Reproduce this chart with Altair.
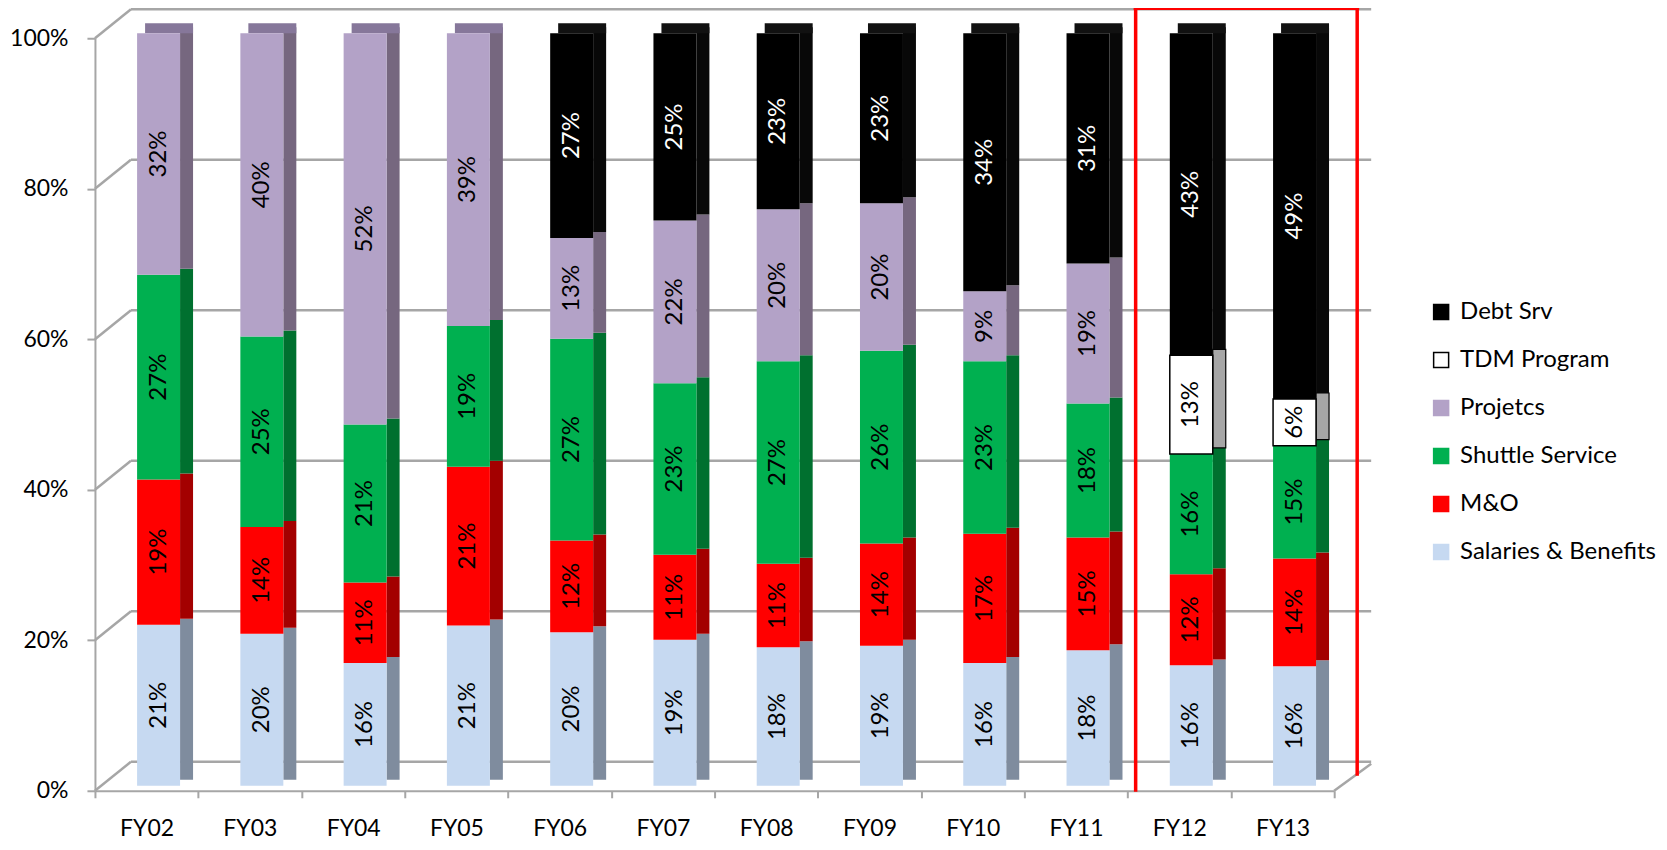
import altair as alt
import pandas as pd

FY = ["FY02", "FY03", "FY04", "FY05", "FY06", "FY07", "FY08", "FY09", "FY10", "FY11", "FY12", "FY13"]
SALARIES = [21.4, 20.2, 16.3, 21.3, 20.4, 19.4, 18.4, 18.6, 16.3, 18.0, 16.0, 15.9]
MO = [19.3, 14.2, 10.7, 21.1, 12.2, 11.3, 11.1, 13.6, 17.2, 15.0, 12.1, 14.3]
SHUTTLE = [27.2, 25.3, 21.0, 18.7, 26.8, 22.8, 26.9, 25.6, 22.9, 17.8, 16.0, 15.0]
PROJECTS = [32.1, 40.3, 52.0, 38.9, 13.4, 21.6, 20.2, 19.6, 9.3, 18.6, None, None]
TDM = [None] * 10 + [13.1, 6.2]
DEBT = [None] * 4 + [27.2, 24.9, 23.4, 22.6, 34.3, 30.6, 42.8, 48.6]

# stacking order bottom -> top
STACK = ["Salaries & Benefits", "M&O", "Shuttle Service", "Projetcs", "TDM Program", "Debt Srv"]
SERIES = [SALARIES, MO, SHUTTLE, PROJECTS, TDM, DEBT]
LEGEND_ORDER = ["Debt Srv", "TDM Program", "Projetcs", "Shuttle Service", "M&O", "Salaries & Benefits"]
TICKS = [0, 0.2, 0.4, 0.6, 0.8, 1.0]

FRONT = {"Debt Srv": "#000000", "TDM Program": "#FFFFFF", "Projetcs": "#B3A2C7",
         "Shuttle Service": "#00B050", "M&O": "#FF0000", "Salaries & Benefits": "#C6D9F1"}
STROKE = dict(FRONT, **{"TDM Program": "#000000"})
SIDE = {"Debt Srv": "#080808", "TDM Program": "#A6A6A6", "Projetcs": "#76677F",
        "Shuttle Service": "#00702F", "M&O": "#A30000", "Salaries & Benefits": "#7F8C9E"}
TOP = {"Debt Srv": "#111111", "TDM Program": "#BFBFBF", "Projetcs": "#86779A",
       "Shuttle Service": "#008A3C", "M&O": "#C00000", "Salaries & Benefits": "#9AA8BA"}

rows = []
for ci, (cat, vals) in enumerate(zip(STACK, SERIES)):
    for fy, v in zip(FY, vals):
        if v is not None:
            rows.append({"fy": fy, "cat": cat, "value": v, "ord": ci})
df = pd.DataFrame(rows)


def color_expr(d):
    expr = "'#000000'"
    for k, v in d.items():
        expr = f"datum.cat == '{k}' ? '{v}' : ({expr})"
    return expr


W, H = 1240, 753
FONT = "Lato"
GRAY = "#A6A6A6"

xenc = alt.X("fy:N", sort=FY, scale=alt.Scale(domain=FY, paddingInner=0, paddingOuter=0),
             axis=alt.Axis(title=None, labelAngle=0, tickBand="extent", tickSize=7, labelPadding=38,
                           labelBaseline="alphabetic",
                           labelFontSize=23, labelFont=FONT, labelColor="#000000",
                           domainColor=GRAY, domainWidth=2, tickColor=GRAY, tickWidth=2))
yscale = alt.Scale(domain=[0, 1], nice=False)

base = alt.Chart(df).transform_stack(
    stack="value", groupby=["fy"], as_=["y0", "y1"], offset="normalize",
    sort=[alt.SortField("ord", order="ascending")]
).transform_calculate(mid="(datum.y0 + datum.y1) / 2",
                      label="format(datum.value, '.0f') + '%'",
                      side_c=color_expr(SIDE),
                      top_c=color_expr(TOP))

ticks_df = pd.DataFrame({"t": TICKS})
grid = alt.Chart(ticks_df).mark_rule(color=GRAY, strokeWidth=2.5, yOffset=-29).encode(
    y=alt.Y("t:Q", scale=yscale,
            axis=alt.Axis(title=None, values=TICKS, format=".0%", grid=False, tickSize=8,
                          labelPadding=19, labelFontSize=23, labelFont=FONT, labelColor="#000000",
                          domainColor=GRAY, domainWidth=2, tickColor=GRAY, tickWidth=2)),
    x=alt.value(36), x2=alt.value(W + 37))
diag = alt.Chart(ticks_df).mark_rule(color=GRAY, strokeWidth=2.5, y2Offset=-29).encode(
    y=alt.Y("t:Q", scale=yscale), y2="t:Q", x=alt.value(0), x2=alt.value(36))
floor_r = alt.Chart(pd.DataFrame({"t": [0]})).mark_rule(color=GRAY, strokeWidth=2.5, y2Offset=-27).encode(
    y=alt.Y("t:Q", scale=yscale), y2="t:Q", x=alt.value(W), x2=alt.value(W + 37))

side = base.mark_bar(width=13, xOffset=40, yOffset=-11, y2Offset=-11).encode(
    x=xenc,
    y=alt.Y("y0:Q", scale=yscale), y2="y1:Q",
    color=alt.Color("side_c:N", scale=None),
    stroke=alt.condition("datum.cat == 'TDM Program'", alt.value("#000000"), alt.value("transparent")),
    strokeWidth=alt.value(1.2))

top = base.transform_filter("datum.y1 > 0.999").mark_bar(width=48, xOffset=22.5, yOffset=-5, y2Offset=-15).encode(
    x=xenc,
    y=alt.Y("y1:Q", scale=yscale), y2="y1:Q",
    color=alt.Color("top_c:N", scale=None))

front = base.mark_bar(width=43, xOffset=12, yOffset=-5, y2Offset=-5).encode(
    x=xenc,
    y=alt.Y("y0:Q", scale=yscale), y2="y1:Q",
    fill=alt.Fill("cat:N", scale=alt.Scale(domain=LEGEND_ORDER, range=[FRONT[c] for c in LEGEND_ORDER]),
                  legend=alt.Legend(title=None)),
    stroke=alt.Stroke("cat:N", scale=alt.Scale(domain=LEGEND_ORDER, range=[STROKE[c] for c in LEGEND_ORDER]),
                      legend=alt.Legend(title=None)),
    strokeWidth=alt.condition("datum.cat == 'TDM Program'", alt.value(1.5), alt.value(0)))

labels = base.mark_text(angle=270, fontSize=24, font=FONT, xOffset=12, yOffset=-5,
                        align="center", baseline="middle").encode(
    x=xenc,
    y=alt.Y("mid:Q", scale=yscale),
    text="label:N",
    color=alt.condition("datum.cat == 'Debt Srv'", alt.value("#FFFFFF"), alt.value("#000000")))

RED = "#FF0000"
b_left = alt.Chart(pd.DataFrame({"fy": ["FY12"]})).mark_rule(color=RED, strokeWidth=3.5, xOffset=8).encode(
    x=alt.X("fy:N", sort=FY, bandPosition=0), y=alt.value(-30), y2=alt.value(754))
b_right = alt.Chart(pd.DataFrame({"fy": ["FY13"]})).mark_rule(color=RED, strokeWidth=3.5, xOffset=23).encode(
    x=alt.X("fy:N", sort=FY, bandPosition=1), y=alt.value(-30), y2=alt.value(738))
b_top = alt.Chart(pd.DataFrame({"fy": ["FY12"]})).mark_rule(color=RED, strokeWidth=3.5, xOffset=6).encode(
    x=alt.X("fy:N", sort=FY, bandPosition=0), x2=alt.value(W + 25), y=alt.value(-30))

chart = alt.layer(grid, diag, floor_r, side, top, front, labels, b_left, b_right, b_top).properties(
    width=W, height=H,
    autosize=alt.AutoSizeParams(type="none"),
    padding={"left": 87, "top": 30, "right": 325, "bottom": 51},
).configure(font=FONT).configure_view(stroke=None).configure_legend(
    orient="none", legendX=1335, legendY=262, padding=0, symbolType="square", symbolSize=225,
    symbolStrokeWidth=1.5, labelFontSize=24, labelFont=FONT, labelColor="#000000", labelLimit=400,
    rowPadding=24, labelOffset=7, symbolOffset=0
)

chart.save("out.html", embed_options={"renderer": "svg", "actions": False})
